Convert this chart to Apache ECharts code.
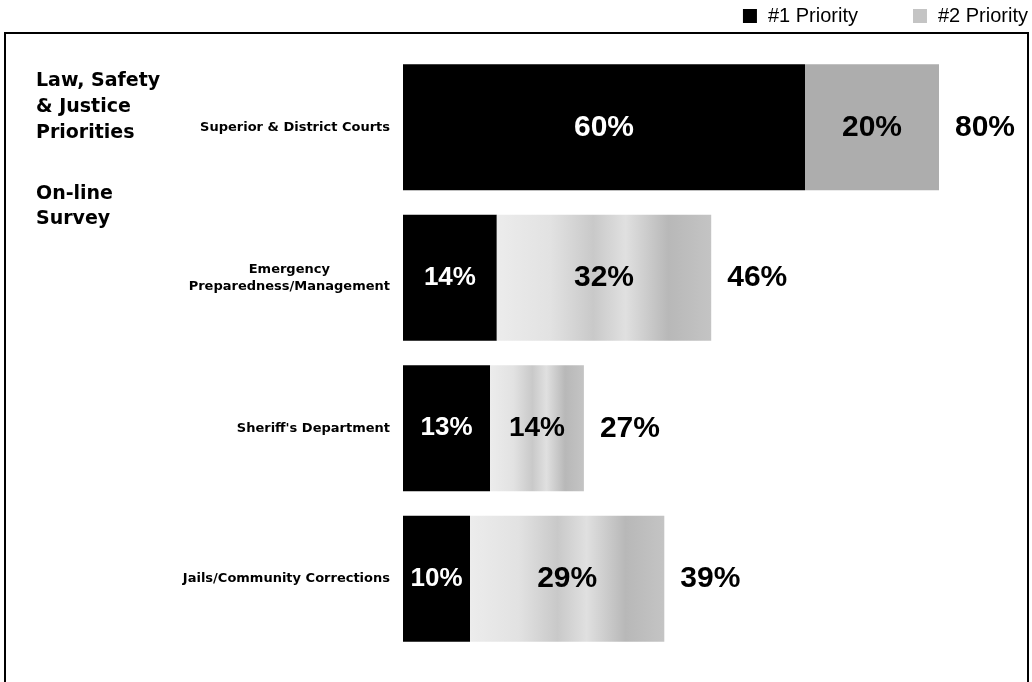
<!DOCTYPE html>
<html>
<head>
<meta charset="utf-8">
<script src="https://cdn.jsdelivr.net/npm/echarts@6/dist/echarts.min.js"></script>
<style>
html,body{margin:0;padding:0;background:#fff;}
#chart{width:1032px;height:682px;}
</style>
</head>
<body>
<div id="chart"></div>
<script>
var categories = ['Superior & District Courts', 'Emergency\nPreparedness/Management', "Sheriff's Department", 'Jails/Community Corrections'];
var priority1 = [60, 14, 13, 10];
var priority2 = [20, 32, 14, 29];
var totals = [80, 46, 27, 39];
var seriesNames = ['#1 Priority', '#2 Priority'];

var FONT = "'Liberation Sans', Arial, Helvetica, sans-serif";
var WIDE = "'DejaVu Sans', Verdana, sans-serif";

function grad2() {
  return new echarts.graphic.LinearGradient(0, 0, 1, 0, [
    {offset: 0, color: '#ececec'},
    {offset: 0.25, color: '#e2e2e2'},
    {offset: 0.45, color: '#c9c9c9'},
    {offset: 0.6, color: '#e0e0e0'},
    {offset: 0.8, color: '#b8b8b8'},
    {offset: 1, color: '#c4c4c4'}
  ]);
}

var p1Data = priority1.map(function (v, i) {
  return {value: v, label: {fontSize: i === 0 ? 30 : 26}};
});
var p2Data = priority2.map(function (v, i) {
  return {
    value: v,
    itemStyle: {color: i === 0 ? '#adadad' : grad2()},
    label: {fontSize: i === 2 ? 28 : 30}
  };
});
var totalData = totals.map(function (v) { return {value: v}; });

var chart = echarts.init(document.getElementById('chart'));
chart.setOption({
  animation: false,
  textStyle: {fontFamily: FONT},
  legend: {
    data: seriesNames,
    right: 4,
    top: 6,
    padding: 0,
    itemWidth: 14,
    itemHeight: 14,
    itemGap: 55,
    icon: 'rect',
    textStyle: {fontSize: 20, color: '#000', fontFamily: FONT, padding: [0, 0, 0, 6]}
  },
  graphic: [
    {
      type: 'rect',
      shape: {x: 5, y: 33, width: 1023, height: 700},
      style: {fill: 'none', stroke: '#000', lineWidth: 2},
      silent: true
    },
    {
      type: 'text',
      left: 36,
      top: 68,
      style: {
        text: 'Law, Safety\n& Justice\nPriorities',
        font: 'bold 19px ' + WIDE,
        lineHeight: 26,
        fill: '#000'
      }
    },
    {
      type: 'text',
      left: 36,
      top: 182,
      style: {
        text: 'On-line\nSurvey',
        font: 'bold 19px ' + WIDE,
        lineHeight: 25,
        fill: '#000'
      }
    }
  ],
  grid: {left: 403, right: 26, top: 52, bottom: 28, containLabel: false},
  xAxis: {
    type: 'value',
    min: 0,
    max: 90,
    show: false
  },
  yAxis: {
    type: 'category',
    data: categories,
    inverse: true,
    axisLine: {show: false},
    axisTick: {show: false},
    splitLine: {show: false},
    axisLabel: {
      margin: 13,
      color: '#000',
      fontSize: 13,
      fontWeight: 'bold',
      fontFamily: WIDE,
      lineHeight: 17,
      formatter: function (v) {
        return v.split('\n').map(function (s) { return '{c|' + s + '}'; }).join('\n');
      },
      rich: {
        c: {align: 'center', fontSize: 13, fontWeight: 'bold', fontFamily: WIDE, color: '#000', lineHeight: 17}
      }
    }
  },
  series: [
    {
      name: seriesNames[0],
      type: 'bar',
      stack: 'p',
      barWidth: 126,
      data: p1Data,
      itemStyle: {color: '#000'},
      label: {
        show: true,
        position: 'inside',
        color: '#fff',
        fontWeight: 'bold',
        fontFamily: FONT,
        formatter: '{c}%'
      }
    },
    {
      name: seriesNames[1],
      type: 'bar',
      stack: 'p',
      barWidth: 126,
      data: p2Data,
      itemStyle: {color: '#c4c4c4'},
      label: {
        show: true,
        position: 'inside',
        color: '#000',
        fontWeight: 'bold',
        fontFamily: FONT,
        formatter: '{c}%'
      }
    },
    {
      name: 'Total',
      type: 'bar',
      barWidth: 126,
      barGap: '-100%',
      z: 1,
      data: totalData,
      itemStyle: {color: 'rgba(0,0,0,0)'},
      label: {
        show: true,
        position: 'right',
        distance: 16,
        color: '#000',
        fontSize: 30,
        fontWeight: 'bold',
        fontFamily: FONT,
        formatter: '{c}%'
      },
      silent: true
    }
  ]
});
</script>
</body>
</html>
